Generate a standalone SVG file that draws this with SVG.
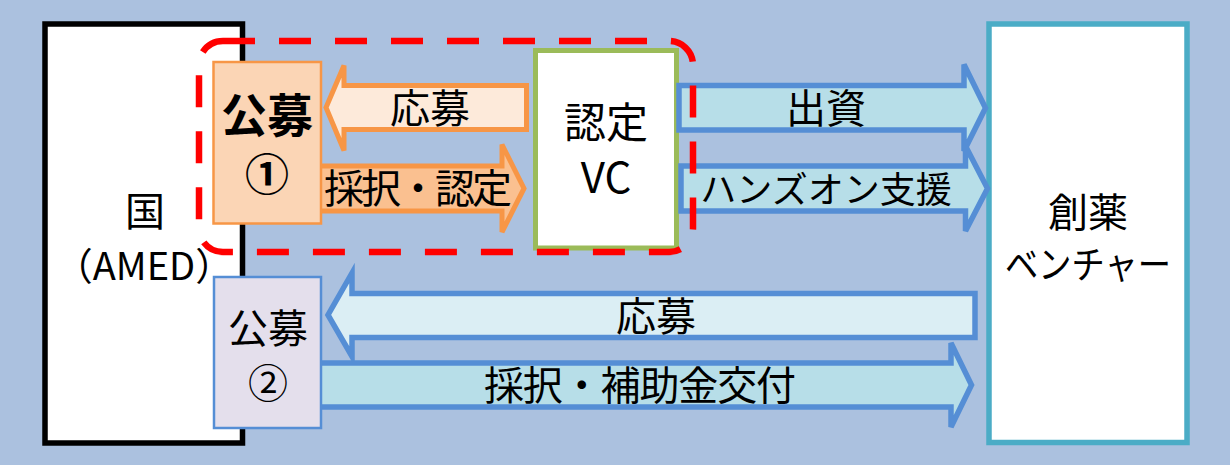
<svg xmlns="http://www.w3.org/2000/svg" width="1230" height="465" viewBox="0 0 1230 465">
<defs>
<style>
text{font-family:"Noto Sans CJK JP","Noto Sans",sans-serif;fill:#000;text-anchor:middle}
.ob{stroke:#F79646;stroke-width:5;stroke-linejoin:miter}
.bb{stroke:#558ED5;stroke-width:5.5;stroke-linejoin:miter}
</style>
</defs>
<rect x="0" y="0" width="1230" height="465" fill="#ABC1DF"/>
<g id="node-kuni">
<rect x="45" y="24" width="197.5" height="419" fill="#fff" stroke="#000" stroke-width="5.5"/>
<text x="145" y="226" font-size="40">国</text>
<text x="144" y="280" font-size="38">（AMED）</text>
</g>
<g id="node-venture">
<rect x="989" y="24" width="198" height="418.5" fill="#fff" stroke="#4BACC6" stroke-width="5.5"/>
<text x="1088" y="227" font-size="40">創薬</text>
<text x="1088" y="278" font-size="38" textLength="166" lengthAdjust="spacingAndGlyphs">ベンチャー</text>
</g>
<g id="connectors">
<polygon class="ob" fill="#FDEADA" points="526.5,85.5 344,85.5 344,65.5 326,107.5 344,150.5 344,129.5 526.5,129.5"/>
<polygon class="ob" fill="#FAC090" points="316,166 502,166 502,144.5 524,188.5 502,232 502,211 316,211"/>
<polygon class="bb" fill="#DBEEF4" points="975,293.5 352,293.5 352,273 328,315 352,356.5 352,337.5 975,337.5"/>
<polygon class="bb" fill="#B7DEE8" points="316,363 951,363 951,343 971.5,385 951,427 951,407 316,407"/>
</g>
<g id="node-vc">
<rect x="535.5" y="50.5" width="141" height="197.5" fill="#fff" stroke="#9BBB59" stroke-width="5"/>
<text x="606" y="138" font-size="42">認定</text>
<text x="606" y="193" font-size="42">VC</text>
</g>
<g id="connectors-vc">
<polygon class="bb" fill="#B7DEE8" points="679,85.5 964,85.5 964,64.5 985.5,108 964,151 964,130 679,130"/>
<polygon class="bb" fill="#B7DEE8" points="681,166 965.5,166 965.5,146 987.5,188.5 965.5,231 965.5,211 681,211"/>
</g>
<g id="labels">
<text x="418" y="203" font-size="40" textLength="188" lengthAdjust="spacing">採択・認定</text>
<text x="430" y="123" font-size="40">応募</text>
<text x="826" y="123" font-size="40">出資</text>
<text x="826" y="203" font-size="36">ハンズオン支援</text>
<text x="656" y="331" font-size="40">応募</text>
<text x="640" y="400" font-size="40" textLength="312" lengthAdjust="spacing">採択・補助金交付</text>
</g>
<g id="node-koubo1">
<rect x="213.5" y="62" width="107.5" height="161.5" fill="#FBD5B5" stroke="#F79646" stroke-width="2.5"/>
<text x="267" y="132" font-size="46" font-weight="bold">公募</text>
<text x="267" y="191" font-size="44" font-weight="bold">①</text>
</g>
<g id="node-koubo2">
<rect x="214" y="277" width="107" height="151" fill="#E4DFEC" stroke="#558ED5" stroke-width="2.5"/>
<text x="268" y="343" font-size="40">公募</text>
<text x="268" y="398" font-size="40">②</text>
</g>
<g id="group-boundary">
<rect x="199" y="41" width="494" height="211" rx="24" ry="24" fill="none" stroke="#FF0000" stroke-width="6.5" stroke-dasharray="32 24"/>
</g>
</svg>
